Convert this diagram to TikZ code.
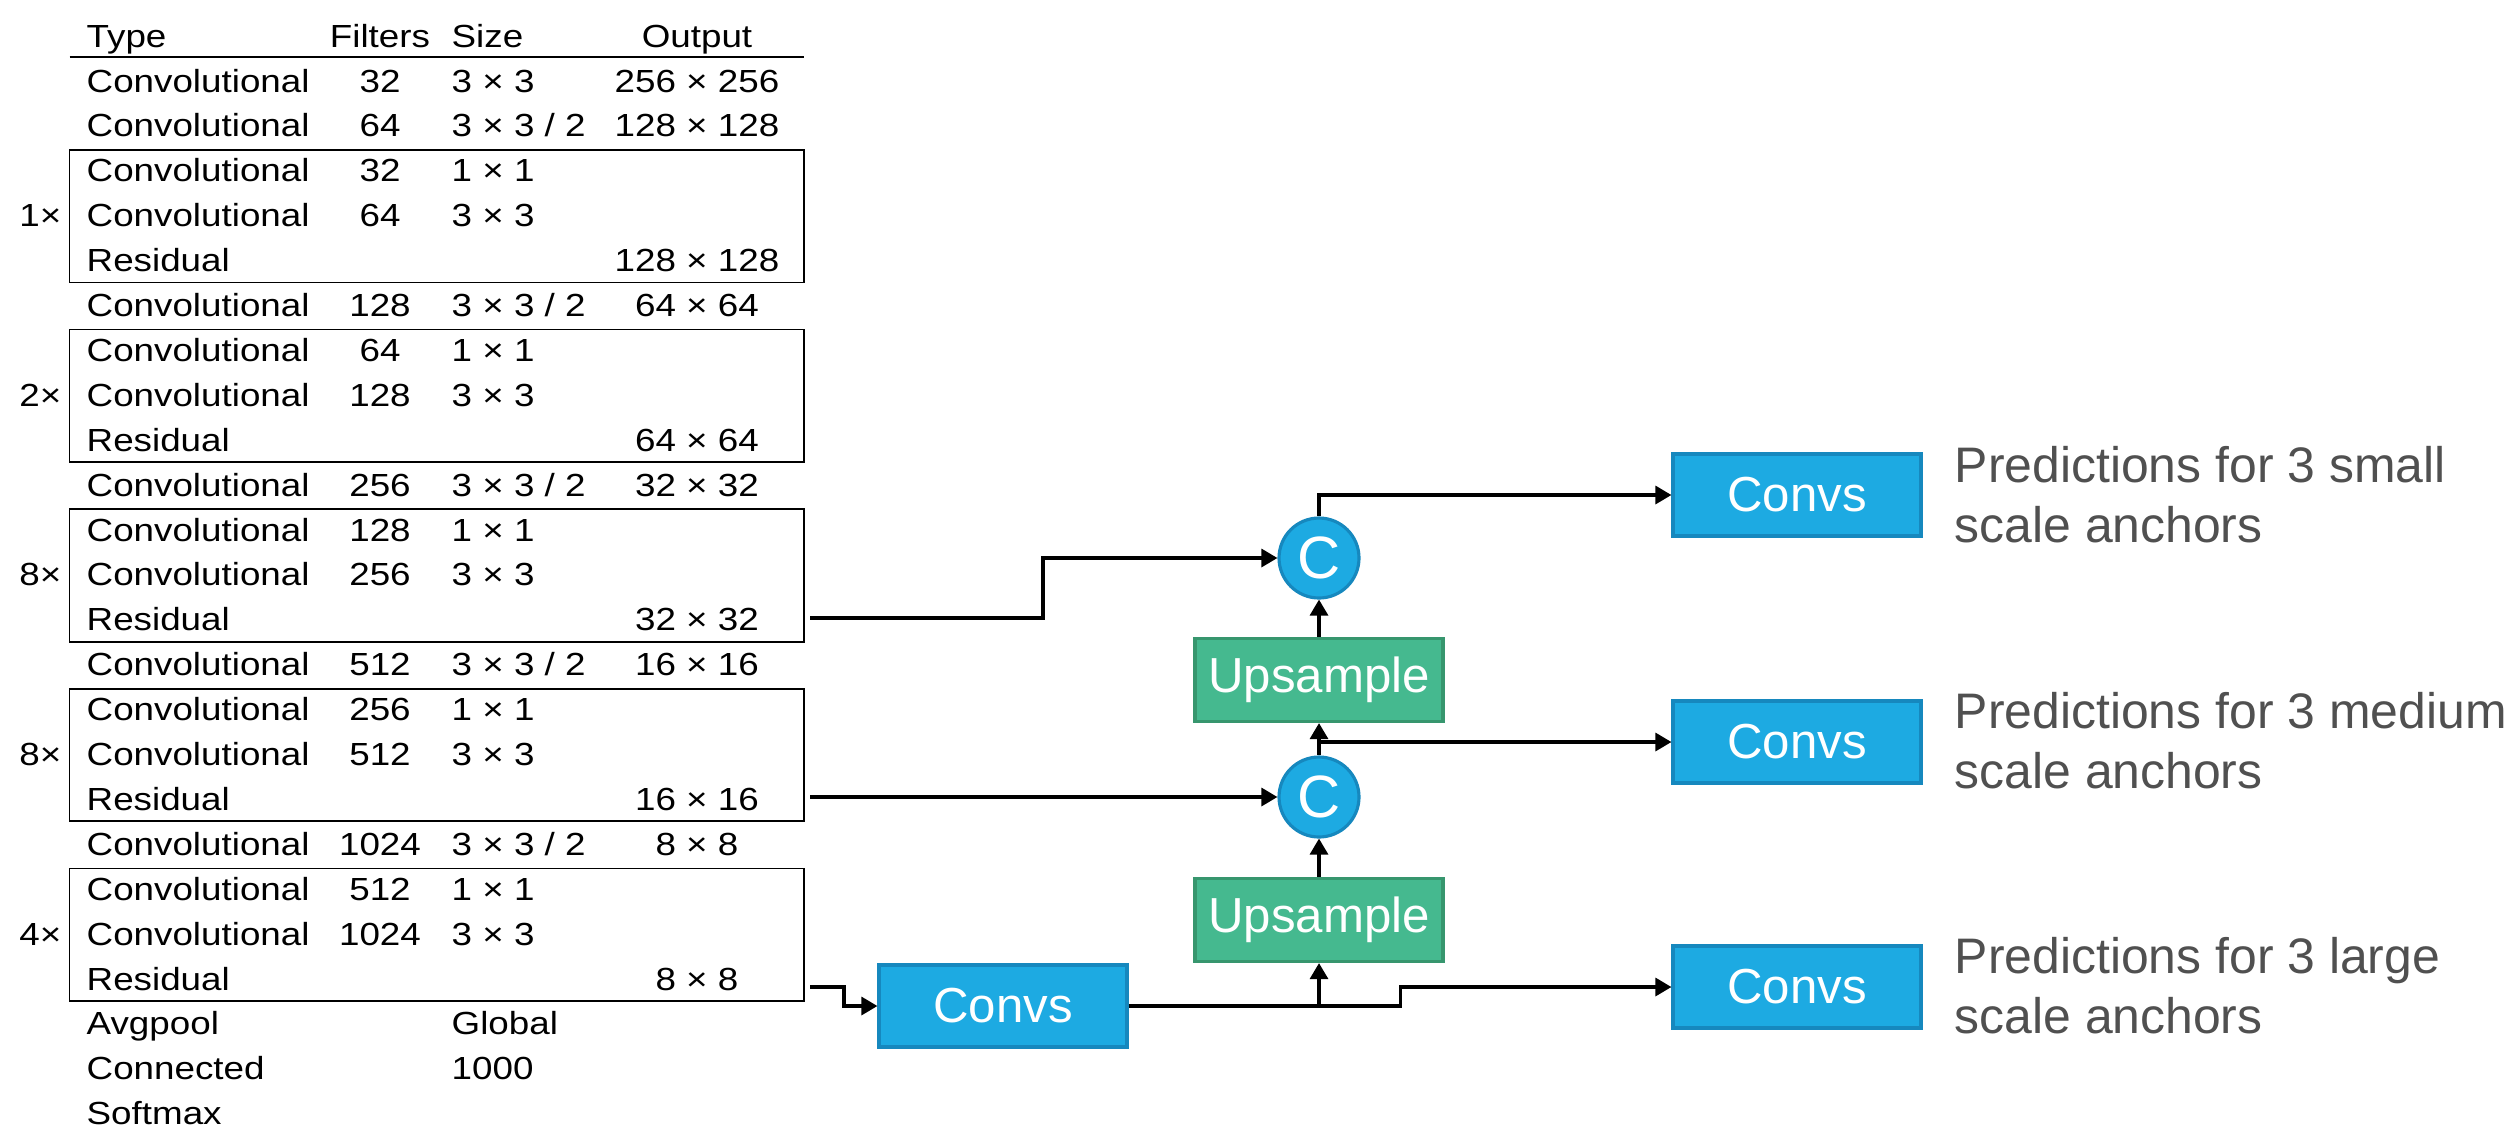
\documentclass[tikz,border=0pt]{standalone}
\usepackage{fontspec}
\setmainfont{Liberation Sans}
\newfontfamily\tabfont{Liberation Sans}[FakeStretch=1.15]
\definecolor{convblue}{RGB}{29,170,226}
\definecolor{convedge}{RGB}{22,136,190}
\definecolor{upgreen}{RGB}{69,185,143}
\definecolor{upedge}{RGB}{55,150,110}
\definecolor{predgray}{RGB}{80,80,80}
\usetikzlibrary{shapes, arrows.meta, positioning, calc}

\begin{document}
\begin{tikzpicture}[x=0.1mm, y=-0.1mm,
    cell/.style={inner sep=0pt, font=\tabfont\fontsize{9.1}{11}\selectfont},
    blockbox/.style={draw, line width=0.5pt, minimum width=73.44mm, minimum height=13.25mm, inner sep=0pt},
    convbox/.style={draw=convedge, fill=convblue, line width=0.9pt, minimum width=24.8mm, minimum height=8.2mm, text=white, font=\fontsize{14}{16}\selectfont},
    upbox/.style={draw=upedge, fill=upgreen, line width=0.9pt, minimum width=24.8mm, minimum height=8.3mm, text=white, font=\fontsize{14}{16}\selectfont},
    catnode/.style={circle, draw=convedge, fill=convblue, line width=0.9pt, minimum size=8mm, inner sep=0pt, text=white, font=\fontsize{17}{19}\selectfont},
    predtext/.style={anchor=west, align=left, inner sep=0pt, text=predgray, font=\fontsize{14.2}{17}\selectfont},
    arr/.style={-{Triangle[length=1.6mm, width=1.8mm]}, line width=0.9pt}]
  \useasboundingbox (0,0) rectangle (2506,1144);

  % Darknet-53 table
  \node[cell, anchor=base west] (hType) at (86,47) {Type};
  \node[cell, anchor=base] (hFilters) at (380,47) {Filters};
  \node[cell, anchor=base west] (hSize) at (451,47) {Size};
  \node[cell, anchor=base] (hOutput) at (697,47) {Output};
  \draw[line width=0.5pt] (69.6,57) -- (804,57);

  \foreach \i/\ty/\fl/\sz/\ou in {
      0/Convolutional/32/{3 × 3}/{256 × 256},
      1/Convolutional/64/{3 × 3 / 2}/{128 × 128},
      2/Convolutional/32/{1 × 1}/{},
      3/Convolutional/64/{3 × 3}/{},
      4/Residual/{}/{}/{128 × 128},
      5/Convolutional/128/{3 × 3 / 2}/{64 × 64},
      6/Convolutional/64/{1 × 1}/{},
      7/Convolutional/128/{3 × 3}/{},
      8/Residual/{}/{}/{64 × 64},
      9/Convolutional/256/{3 × 3 / 2}/{32 × 32},
      10/Convolutional/128/{1 × 1}/{},
      11/Convolutional/256/{3 × 3}/{},
      12/Residual/{}/{}/{32 × 32},
      13/Convolutional/512/{3 × 3 / 2}/{16 × 16},
      14/Convolutional/256/{1 × 1}/{},
      15/Convolutional/512/{3 × 3}/{},
      16/Residual/{}/{}/{16 × 16},
      17/Convolutional/1024/{3 × 3 / 2}/{8 × 8},
      18/Convolutional/512/{1 × 1}/{},
      19/Convolutional/1024/{3 × 3}/{},
      20/Residual/{}/{}/{8 × 8},
      21/Avgpool/{}/Global/{},
      22/Connected/{}/1000/{},
      23/Softmax/{}/{}/{}} {
    \node[cell, anchor=base west] (type\i) at (86,{92+44.9*\i}) {\ty};
    \node[cell, anchor=base] (filt\i) at (380,{92+44.9*\i}) {\fl};
    \node[cell, anchor=base west] (size\i) at (451,{92+44.9*\i}) {\sz};
    \node[cell, anchor=base] (out\i) at (697,{92+44.9*\i}) {\ou};
  }

  \foreach \k/\n in {0/1, 1/2, 2/8, 3/8, 4/4} {
    \node[blockbox] (blk\k) at (436.8,{216.25+179.6*\k}) {};
    \node[cell, anchor=base east] (rep\k) at (62,{92+44.9*(3+4*\k)}) {\n×};
  }

  % feature pyramid
  \coordinate (from32) at (810,618);
  \coordinate (from16) at (810,797);
  \coordinate (from8) at (810,987);

  \node[convbox] (convL) at (1003,1006) {Convs};
  \node[upbox] (up1) at (1319,920) {Upsample};
  \node[catnode] (c1) at (1319,797) {C};
  \node[upbox] (up2) at (1319,680) {Upsample};
  \node[catnode] (c2) at (1319,558) {C};

  \node[convbox] (convS) at (1797,495) {Convs};
  \node[convbox] (convM) at (1797,742) {Convs};
  \node[convbox] (convB) at (1797,987) {Convs};

  \node[predtext] (predS) at (1954,495) {Predictions for 3 small\\scale anchors};
  \node[predtext] (predM) at (1954,741) {Predictions for 3 medium\\scale anchors};
  \node[predtext] (predB) at (1954,986) {Predictions for 3 large\\scale anchors};

  \draw[arr] (from32) -- ++(233,0) |- (c2);
  \draw[arr] (from16) -- (c1);
  \draw[arr] (from8) -- ++(34,0) |- (convL);
  \draw[arr] (convL.east) -- ++(272,0) |- (convB);
  \draw[arr] (up1 |- convL) -- (up1);
  \draw[arr] (up1) -- (c1);
  \draw[arr] (c1) -- (up2);
  \draw[arr] (c1 |- convM) -- (convM);
  \draw[arr] (up2) -- (c2);
  \draw[arr] (c2) |- (convS);
\end{tikzpicture}
\end{document}
